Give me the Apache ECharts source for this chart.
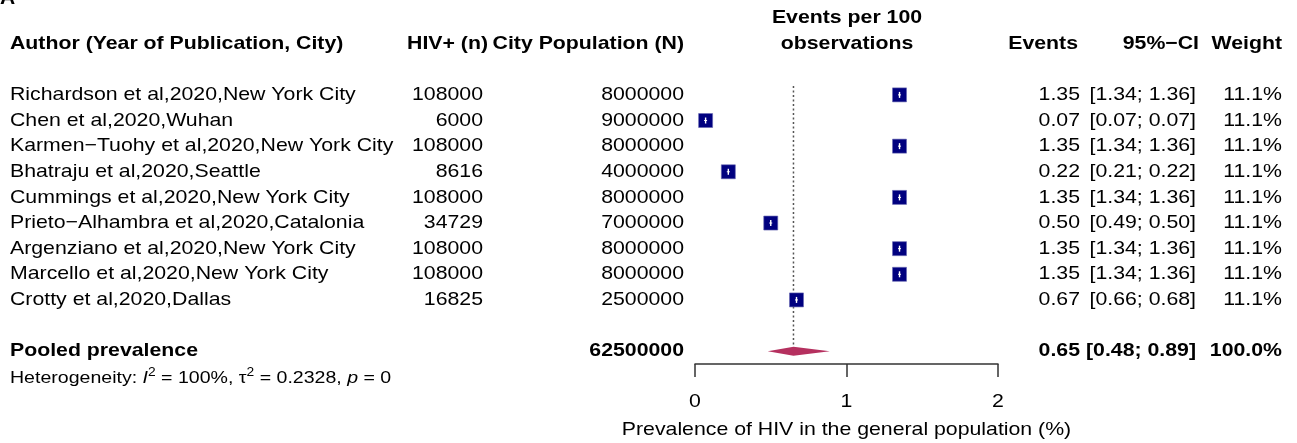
<!DOCTYPE html>
<html>
<head>
<meta charset="utf-8">
<script src="https://cdn.jsdelivr.net/npm/echarts@6/dist/echarts.min.js"></script>
<style>
  html, body { margin: 0; padding: 0; background: #fff; }
  #main { width: 1297px; height: 443px; }
</style>
</head>
<body>
<div id="main"></div>
<script>
// study data (rows 0..8)
const authors = [
  'Richardson et al,2020,New York City',
  'Chen et al,2020,Wuhan',
  'Karmen\u2212Tuohy et al,2020,New York City',
  'Bhatraju et al,2020,Seattle',
  'Cummings et al,2020,New York City',
  'Prieto\u2212Alhambra et al,2020,Catalonia',
  'Argenziano et al,2020,New York City',
  'Marcello et al,2020,New York City',
  'Crotty et al,2020,Dallas'
];
const hivPos = [108000, 6000, 108000, 8616, 108000, 34729, 108000, 108000, 16825];
const cityPop = [8000000, 9000000, 8000000, 4000000, 8000000, 7000000, 8000000, 8000000, 2500000];
const events = [1.35, 0.07, 1.35, 0.22, 1.35, 0.50, 1.35, 1.35, 0.67];
const ciLow = [1.34, 0.07, 1.34, 0.21, 1.34, 0.49, 1.34, 1.34, 0.66];
const ciHigh = [1.36, 0.07, 1.36, 0.22, 1.36, 0.50, 1.36, 1.36, 0.68];
const weights = [11.1, 11.1, 11.1, 11.1, 11.1, 11.1, 11.1, 11.1, 11.1];

// pooled estimate
const pooledN = 62500000;
const pooledEst = [0.65];
const pooledCI = [0.48, 0.89];
const pooledWeight = 100.0;

const xTicks = [0, 1, 2];
const xTitle = 'Prevalence of HIV in the general population (%)';

const FONT = "'Liberation Sans', Arial, sans-serif";
const FS = 18.5;      // font size
const SX = 1.15;      // horizontal stretch of the original text
const POOLED_ROW = 10;
const AXIS_ROW = 10.5;
// column x positions in px
const COL = { author: 10, hiv: 483, hivHead: 488, pop: 684, ev: 1080, evHead: 1078, ci: 1196, ciHead: 1199, w: 1282, mid: 847 };

const chart = echarts.init(document.getElementById('main'));

function txt(x, y, text, align, bold, size) {
  return {
    type: 'text', x: x, y: y, scaleX: SX,
    style: { text: text, fill: '#000', align: align, verticalAlign: 'middle',
      font: (bold ? 'bold ' : '') + (size || FS) + 'px ' + FONT }
  };
}

const rows = authors.map((a, i) => [i]);

const option = {
  animation: false,
  backgroundColor: '#fff',
  grid: { left: 695, right: 299, top: 18, bottom: 79 },
  xAxis: {
    type: 'value', min: 0, max: 2, interval: 1,
    splitLine: { show: false },
    axisLine: { show: true, onZero: false, lineStyle: { color: '#333', width: 1.5 } },
    axisTick: { show: true, inside: false, length: 13, lineStyle: { color: '#333', width: 1.5 } },
    axisLabel: { show: false }
  },
  yAxis: { type: 'value', inverse: true, min: -3, max: 10.5, show: false },
  series: [
    // column headers
    {
      type: 'custom', data: [[0]],
      renderItem: function (params, api) {
        const y1 = api.coord([0, -3])[1];
        const y2 = api.coord([0, -2])[1];
        return { type: 'group', children: [
          txt(COL.mid, y1, 'Events per 100', 'center', true),
          txt(COL.mid, y2, 'observations', 'center', true),
          txt(COL.author, y2, 'Author (Year of Publication, City)', 'left', true),
          txt(COL.hivHead, y2, 'HIV+ (n)', 'right', true),
          txt(COL.pop, y2, 'City Population (N)', 'right', true),
          txt(COL.evHead, y2, 'Events', 'right', true),
          txt(COL.ciHead, y2, '95%\u2212CI', 'right', true),
          txt(COL.w, y2, 'Weight', 'right', true)
        ] };
      }
    },
    // study rows text
    {
      type: 'custom', data: rows,
      renderItem: function (params, api) {
        const i = api.value(0);
        const y = api.coord([0, i])[1];
        return { type: 'group', children: [
          txt(COL.author, y, authors[i], 'left'),
          txt(COL.hiv, y, String(hivPos[i]), 'right'),
          txt(COL.pop, y, String(cityPop[i]), 'right'),
          txt(COL.ev, y, events[i].toFixed(2), 'right'),
          txt(COL.ci, y, '[' + ciLow[i].toFixed(2) + '; ' + ciHigh[i].toFixed(2) + ']', 'right'),
          txt(COL.w, y, weights[i].toFixed(1) + '%', 'right')
        ] };
      }
    },
    // dotted reference line at pooled estimate
    {
      type: 'custom', data: [[pooledEst[0]]],
      renderItem: function (params, api) {
        const p1 = api.coord([api.value(0), -0.35]);
        const p2 = api.coord([api.value(0), 9.8]);
        return { type: 'line', shape: { x1: p1[0], y1: p1[1], x2: p2[0], y2: p2[1] },
          style: { stroke: '#555', lineWidth: 1.5, lineDash: [2, 2.5] } };
      }
    },
    // study squares + CI
    {
      type: 'custom', data: events.map((e, i) => [e, i, ciLow[i], ciHigh[i]]),
      renderItem: function (params, api) {
        const c = api.coord([api.value(0), api.value(1)]);
        const lo = api.coord([api.value(2), api.value(1)]);
        const hi = api.coord([api.value(3), api.value(1)]);
        const s = 14;
        return { type: 'group', children: [
          { type: 'rect', shape: { x: c[0] - s / 2, y: c[1] - s / 2, width: s, height: s },
            style: { fill: '#00007F', stroke: '#6666b0', lineWidth: 0.6 } },
          { type: 'line', shape: { x1: Math.min(lo[0], c[0] - 1.5), y1: c[1], x2: Math.max(hi[0], c[0] + 1.5), y2: c[1] },
            style: { stroke: '#fff', lineWidth: 1 } },
          { type: 'line', shape: { x1: c[0], y1: c[1] - 3, x2: c[0], y2: c[1] + 3 },
            style: { stroke: '#fff', lineWidth: 1.4 } }
        ] };
      }
    },
    // pooled diamond
    {
      type: 'custom', data: [[pooledEst[0], pooledCI[0], pooledCI[1], POOLED_ROW]],
      renderItem: function (params, api) {
        const r = api.value(3);
        const c = api.coord([api.value(0), r]);
        const lo = api.coord([api.value(1), r]);
        const hi = api.coord([api.value(2), r]);
        return { type: 'polygon',
          shape: { points: [[lo[0], c[1]], [c[0], c[1] - 4.5], [hi[0], c[1]], [c[0], c[1] + 4.5]] },
          style: { fill: '#B5305F' } };
      }
    },
    // pooled row text + heterogeneity
    {
      type: 'custom', data: [[POOLED_ROW]],
      renderItem: function (params, api) {
        const r = api.value(0);
        const y = api.coord([0, r])[1];
        const y2 = api.coord([0, r + 1])[1];
        return { type: 'group', children: [
          txt(COL.author, y, 'Pooled prevalence', 'left', true),
          txt(COL.pop, y, String(pooledN), 'right', true),
          txt(COL.ev, y, pooledEst[0].toFixed(2), 'right', true),
          txt(COL.ci, y, '[' + pooledCI[0].toFixed(2) + '; ' + pooledCI[1].toFixed(2) + ']', 'right', true),
          txt(COL.w, y, pooledWeight.toFixed(1) + '%', 'right', true),
          { type: 'text', x: COL.author, y: y2 + 1, scaleX: SX,
            style: {
              text: 'Heterogeneity: {i|I}{s|2} = 100%, \u03c4{s|2} = 0.2328, {i|p} = 0',
              align: 'left', verticalAlign: 'middle', fill: '#000',
              font: '17px ' + FONT, lineHeight: 22,
              rich: {
                i: { fontStyle: 'italic', fontSize: 17, fontFamily: FONT, lineHeight: 22 },
                s: { fontSize: 12, fontFamily: FONT, verticalAlign: 'top', lineHeight: 14 }
              }
            } }
        ] };
      }
    },
    // x tick labels and axis title
    {
      type: 'custom', data: xTicks.map(v => [v, AXIS_ROW]),
      renderItem: function (params, api) {
        const p = api.coord([api.value(0), api.value(1)]);
        const kids = [txt(p[0], p[1] + 38, String(api.value(0)), 'center')];
        if (params.dataIndex === 1) {
          kids.push(txt(p[0], p[1] + 66, xTitle, 'center'));
        }
        return { type: 'group', children: kids };
      }
    }
  ],
  graphic: [
    { type: 'text', left: 0, top: -12,
      style: { text: 'A', font: 'bold 21px ' + FONT, fill: '#000' } }
  ]
};

chart.setOption(option);
</script>
</body>
</html>
